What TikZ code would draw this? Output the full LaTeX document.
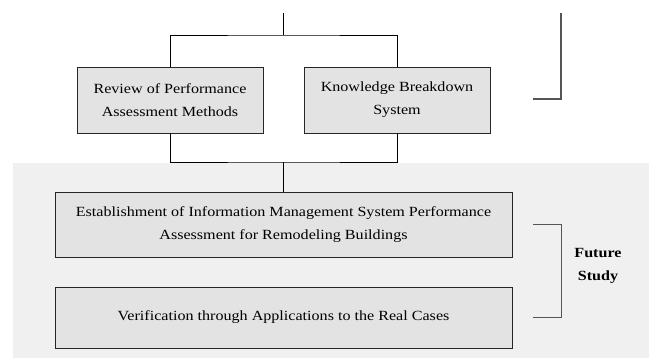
\documentclass[tikz,border=0pt]{standalone}
\usepackage{fontspec}
\setmainfont[FakeStretch=1.15]{Liberation Serif}
\usetikzlibrary{calc}

\definecolor{boxgray}{HTML}{E3E3E3}
\definecolor{panelgray}{HTML}{F0F0F0}
\definecolor{bracketgray}{HTML}{555555}

\begin{document}
\begin{tikzpicture}[x=1pt, y=1pt]

    \tikzset{stage/.style={draw=black!85, fill=boxgray, line width=0.9pt, align=center,
                           inner sep=0pt, font=\fontsize{14}{23}\selectfont}};
    \tikzset{link/.style={draw=black, line width=0.9pt}};
    \tikzset{bracket/.style={draw=bracketgray, line width=1.4pt}};

    \useasboundingbox (0,0) rectangle (649,-358);

    % shaded part for the later work
    \fill[panelgray] (13,-163) rectangle (649,-358);

    \node[stage, minimum width=186pt, minimum height=66pt] (review) at (170,-100) {Review of Performance\\Assessment Methods};
	\node[stage, minimum width=186pt, minimum height=66pt] (kbs) at (397,-100) {Knowledge Breakdown\\System};

    \node[stage, minimum width=457pt, minimum height=65pt] (imsp) at (283.5,-224.5) {Establishment of Information Management System Performance\\Assessment for Remodeling Buildings};
    \node[stage, minimum width=457pt, minimum height=61pt] (verify) at (283.5,-317.5) {Verification through Applications to the Real Cases};

    \coordinate (in) at (283.5,-13);
    \coordinate (split) at (283.5,-35);
    \coordinate (merge) at (283.5,-162);

    \draw[link] (in) -- (split);
    \draw[link] (review.north) |- (split) -| (kbs.north);
    \draw[link] (review.south) |- (merge) -| (kbs.south);
    \draw[link] (merge) -- (merge |- imsp.north);

    % brackets on the right
    \coordinate (prevTop) at (561,-13);
    \draw[bracket] (prevTop) |- ($(prevTop)+(-28,-86)$);
    \draw[bracket] ([xshift=21pt]imsp.east) -- ++(28,0) |- ([xshift=21pt]verify.east);

    \node[font=\fontsize{14}{23}\selectfont\bfseries, align=center] (future) at (598,-265.5) {Future\\Study};

\end{tikzpicture}
\end{document}
